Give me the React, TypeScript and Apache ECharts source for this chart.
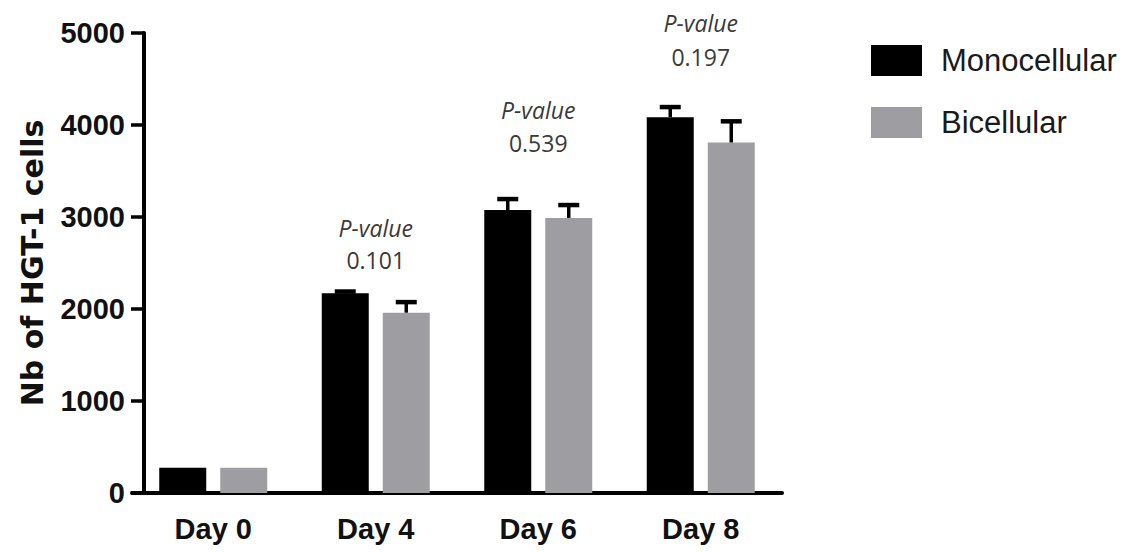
import React, { useEffect, useRef } from "react";
import * as echarts from "echarts";

const days = ["Day 0", "Day 4", "Day 6", "Day 8"];
const monoValues = [275, 2170, 3075, 4085];
const monoErrors = [0, 20, 120, 110];
const biValues = [275, 1960, 2990, 3810];
const biErrors = [0, 115, 140, 230];
const yTicks = [0, 1000, 2000, 3000, 4000, 5000];

// P-value annotations (category index, text, value-level of each line)
const pCategories = [1, 2, 3];
const pTexts = ["0.101", "0.539", "0.197"];
const pHeaderLevel = [2880, 4163, 5109];
const pNumberLevel = [2533, 3800, 4739];

const BAR_W = 47;
const BAR_GAP = 14;
const OFFSET = (BAR_W + BAR_GAP) / 2;

function errorSeries(values: number[], errors: number[], offset: number) {
  return {
    type: "custom",
    silent: true,
    clip: false,
    z: 5,
    data: values.map((v, i) => [i, v, errors[i]]),
    renderItem: (params: any, api: any) => {
      const i = api.value(0);
      const v = api.value(1);
      const e = api.value(2);
      if (!e) return null;
      const p0 = api.coord([i, v]);
      const p1 = api.coord([i, v + e]);
      const x = p0[0] + offset;
      return {
        type: "group",
        children: [
          { type: "line", shape: { x1: x, y1: p0[1], x2: x, y2: p1[1] }, style: { stroke: "#000", lineWidth: 3.5 } },
          { type: "line", shape: { x1: x - 10.5, y1: p1[1], x2: x + 10.5, y2: p1[1] }, style: { stroke: "#000", lineWidth: 4.5 } },
        ],
      };
    },
  };
}

export default function App() {
  const ref = useRef<HTMLDivElement>(null);
  useEffect(() => {
    if (!ref.current) return;
    const chart = echarts.init(ref.current, null, { renderer: "svg" });
    const tickFont = { fontFamily: "'Liberation Sans', Arial, sans-serif", fontWeight: "bold" as const, fontSize: 29, color: "#111" };
    chart.setOption({
      animation: false,
      backgroundColor: "#fff",
      grid: { left: 132, top: 33, width: 650, height: 460 },
      legend: {
        data: ["Monocellular", "Bicellular"],
        orient: "vertical",
        left: 866,
        top: 40,
        itemWidth: 51,
        itemHeight: 31,
        itemGap: 31,
        icon: "rect",
        selectedMode: false,
        textStyle: {
          fontFamily: "'Liberation Sans', Arial, sans-serif",
          fontSize: 31,
          color: "#1a1a1a",
          padding: [0, 0, 0, 14],
        },
      },
      xAxis: {
        type: "category",
        data: days,
        axisLine: { lineStyle: { color: "#000", width: 4 } },
        axisTick: { alignWithLabel: true, length: 11, lineStyle: { color: "#000", width: 3.5 } },
        axisLabel: { ...tickFont, margin: 21 },
        splitLine: { show: false },
      },
      yAxis: {
        type: "value",
        min: 0,
        max: 5000,
        interval: 1000,
        offset: -12,
        name: "Nb of HGT-1 cells",
        nameLocation: "middle",
        nameRotate: 90,
        nameGap: 97,
        nameTextStyle: {
          fontFamily: "'DejaVu Sans', sans-serif",
          fontWeight: "bold",
          fontSize: 30,
          color: "#111",
        },
        axisLine: { show: true, lineStyle: { color: "#000", width: 4 } },
        axisTick: { show: true, length: 13, lineStyle: { color: "#000", width: 3.5 } },
        axisLabel: {
          ...tickFont,
          margin: 19,
          formatter: (v: number) => (yTicks.includes(v) ? String(v) : ""),
        },
        splitLine: { show: false },
      },
      series: [
        {
          name: "Monocellular",
          type: "bar",
          data: monoValues,
          barWidth: BAR_W,
          barGap: `${(BAR_GAP / BAR_W) * 100}%`,
          itemStyle: { color: "#000" },
        },
        {
          name: "Bicellular",
          type: "bar",
          data: biValues,
          barWidth: BAR_W,
          itemStyle: { color: "#9e9ea2" },
        },
        errorSeries(monoValues, monoErrors, -OFFSET),
        errorSeries(biValues, biErrors, OFFSET),
        {
          type: "custom",
          silent: true,
          clip: false,
          z: 6,
          data: pCategories.map((c, i) => [c, pNumberLevel[i], pHeaderLevel[i]]),
          renderItem: (params: any, api: any) => {
            const idx = params.dataIndex;
            const c = api.value(0);
            const pNum = api.coord([c, api.value(1)]);
            const pHead = api.coord([c, api.value(2)]);
            const font = "'Open Sans', 'Noto Sans', sans-serif";
            return {
              type: "group",
              children: [
                {
                  type: "text",
                  x: pHead[0],
                  y: pHead[1],
                  style: {
                    text: "P-value",
                    fontFamily: font,
                    fontStyle: "italic",
                    fontSize: 23,
                    fill: "#3a3a3a",
                    align: "center",
                    verticalAlign: "middle",
                  },
                },
                {
                  type: "text",
                  x: pNum[0],
                  y: pNum[1],
                  style: {
                    text: pTexts[idx],
                    fontFamily: font,
                    fontSize: 23,
                    fill: "#3a3a3a",
                    align: "center",
                    verticalAlign: "middle",
                  },
                },
              ],
            };
          },
        },
      ],
    });
    return () => chart.dispose();
  }, []);
  return (
    <div
      ref={ref}
      style={{ position: "fixed", left: 0, top: 0, width: 1143, height: 552, background: "#fff" }}
    />
  );
}
